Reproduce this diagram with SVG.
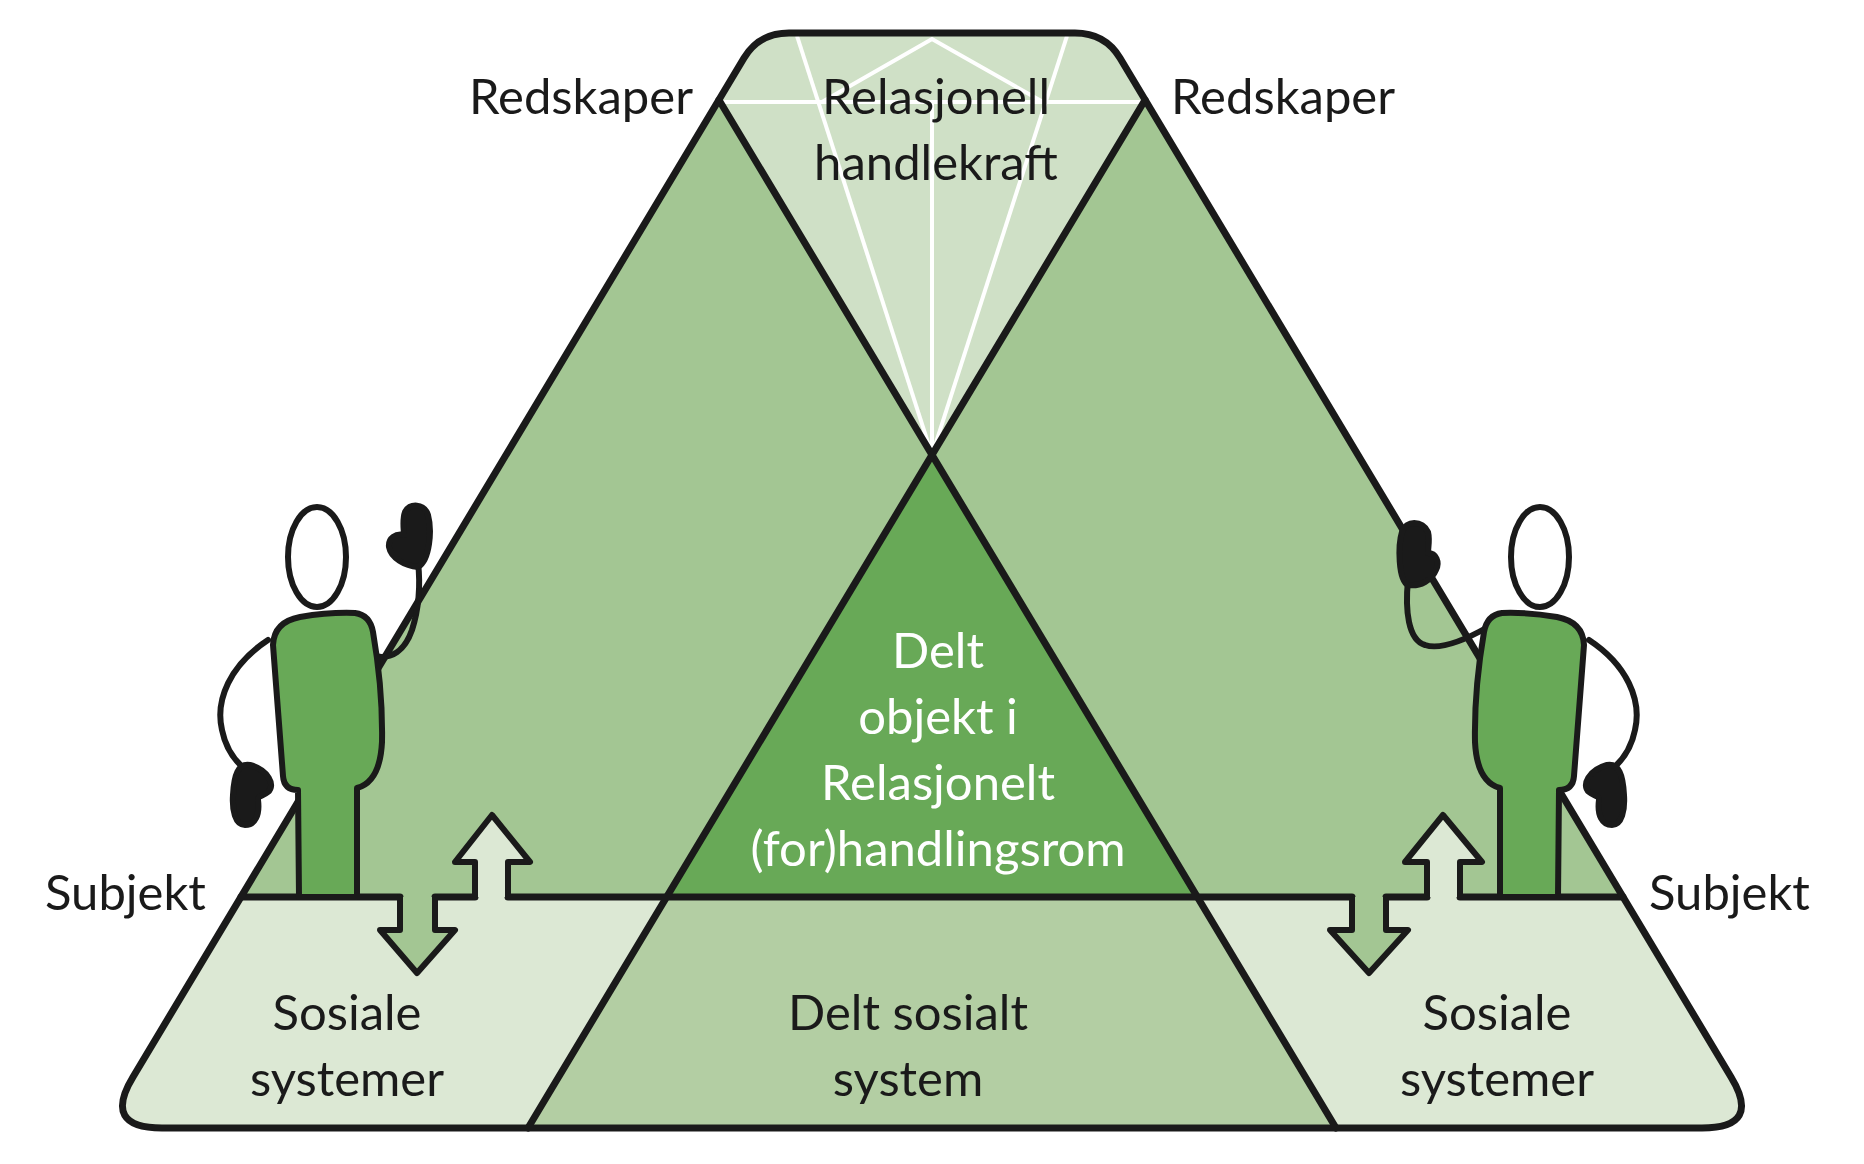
<svg xmlns="http://www.w3.org/2000/svg" width="1864" height="1164" viewBox="0 0 1864 1164">
<style>
.k{stroke:#1a1a1a;stroke-width:7;fill:none;stroke-linejoin:round;stroke-linecap:round}
.w{stroke:#ffffff;stroke-width:4;fill:none}
.t{font-family:Lato,"Noto Sans",sans-serif;font-size:49px;fill:#1a1a1a}
.c{text-anchor:middle}
.fig{stroke:#1a1a1a;stroke-width:6;stroke-linejoin:round;stroke-linecap:round}
</style>
<defs>
<clipPath id="outer"><path d="M789,33 L1075,33 Q1105,33 1120,58 L1731,1077 Q1762,1128 1702,1128 L162,1128 Q102,1128 133,1077 L744,58 Q759,33 789,33 Z"/></clipPath>
</defs>
<rect width="1864" height="1164" fill="#ffffff"/>
<g id="regions" clip-path="url(#outer)">
<rect x="0" y="0" width="1864" height="1164" fill="#cfe0c6"/>
<polygon points="719,100 241,897 1623,897 1145,100 932,455" fill="#a3c693"/>
<polygon points="932,455 667,897 1197,897" fill="#68a957"/>
<rect x="0" y="897" width="1864" height="300" fill="#dce8d4"/>
<polygon points="667,897 1197,897 1336,1128 528,1128" fill="#b3cea3"/>
</g>
<g id="facets">
<line class="w" x1="719" y1="102" x2="1145" y2="102"/>
<line class="w" x1="932" y1="455" x2="797" y2="36"/>
<line class="w" x1="932" y1="455" x2="1067" y2="36"/>
<line class="w" x1="932" y1="455" x2="932" y2="102"/>
<polyline class="w" points="822,102 932,39 1043,102"/>
</g>
<g id="connectors">
<line class="k" x1="719" y1="100" x2="1336" y2="1128"/>
<line class="k" x1="1145" y1="100" x2="528" y2="1128"/>
<path class="k" d="M241,897 L400,897 M435,897 L475,897 M508,897 L1352,897 M1386,897 L1427,897 M1460,897 L1623,897"/>
<path class="k" d="M789,33 L1075,33 Q1105,33 1120,58 L1731,1077 Q1762,1128 1702,1128 L162,1128 Q102,1128 133,1077 L744,58 Q759,33 789,33 Z"/>
</g>
<g id="arrows">
<path d="M400,897 L400,930 L380,930 L417,973 L455,930 L435,930 L435,897" fill="#a3c693" class="fig"/>
<path d="M475,897 L475,862 L455,862 L492,815 L530,862 L508,862 L508,897" fill="#dce8d4" class="fig"/>
<path d="M1352,897 L1352,930 L1330,930 L1369,973 L1408,930 L1386,930 L1386,897" fill="#a3c693" class="fig"/>
<path d="M1427,897 L1427,862 L1405,862 L1443,815 L1482,862 L1460,862 L1460,897" fill="#dce8d4" class="fig"/>
</g>
<g id="subject-left">
<ellipse cx="317" cy="557" rx="29" ry="50" fill="#ffffff" class="fig"/>
<path d="M268,640 C230,665 215,700 222,730 C226,750 236,762 246,770" fill="none" class="fig"/>
<path d="M250,765 C268,770 276,785 268,792 C262,797 258,795 258,800 C260,815 255,825 245,825 C235,825 232,810 233,795 C234,775 238,763 250,765 Z" fill="#1a1a1a" class="fig"/>
<path d="M374,656 C392,660 405,650 412,630 C420,605 420,580 418,562" fill="none" class="fig"/>
<path d="M418,567 C430,560 432,530 428,515 C424,503 410,503 405,512 C402,520 404,530 404,535 C396,533 388,538 389,547 C391,558 405,566 418,567 Z" fill="#1a1a1a" class="fig"/>
<path d="M273,645 Q274,622 300,617 Q330,612 355,613 Q370,615 373,632 Q383,690 382,742 Q380,782 357,788 L357,897 L299,897 L298,790 Q284,790 283,776 Z" fill="#68a957" class="fig"/>
</g>
<g id="subject-right">
<g transform="translate(1857,0) scale(-1,1)">
<ellipse cx="317" cy="557" rx="29" ry="50" fill="#ffffff" class="fig"/>
<path d="M268,640 C230,665 215,700 222,730 C226,750 236,762 246,770" fill="none" class="fig"/>
<path d="M250,765 C268,770 276,785 268,792 C262,797 258,795 258,800 C260,815 255,825 245,825 C235,825 232,810 233,795 C234,775 238,763 250,765 Z" fill="#1a1a1a" class="fig"/>
</g>
<path d="M1488,627 C1465,640 1440,650 1425,645 C1408,640 1405,610 1408,580" fill="none" class="fig"/>
<path d="M1408,585 C1398,580 1398,545 1402,532 C1406,520 1422,520 1428,532 C1430,540 1428,548 1428,553 C1436,553 1440,562 1436,570 C1432,580 1420,587 1408,585 Z" fill="#1a1a1a" class="fig"/>
<g transform="translate(1857,0) scale(-1,1)">
<path d="M273,645 Q274,622 300,617 Q330,612 355,613 Q370,615 373,632 Q383,690 382,742 Q380,782 357,788 L357,897 L299,897 L298,790 Q284,790 283,776 Z" fill="#68a957" class="fig"/>
</g>
</g>
<g id="labels">
<text class="t" x="693" y="114" text-anchor="end">Redskaper</text>
<text class="t" x="1171" y="114">Redskaper</text>
<text class="t c" x="936" y="114">Relasjonell</text>
<text class="t c" x="936" y="180">handlekraft</text>
<text class="t" x="45" y="910">Subjekt</text>
<text class="t" x="1649" y="910">Subjekt</text>
<text class="t c" x="938" y="668" style="fill:#ffffff">Delt</text>
<text class="t c" x="938" y="734" style="fill:#ffffff">objekt i</text>
<text class="t c" x="938" y="800" style="fill:#ffffff">Relasjonelt</text>
<text class="t c" x="938" y="866" style="fill:#ffffff">(for)handlingsrom</text>
<text class="t c" x="347" y="1030">Sosiale</text>
<text class="t c" x="347" y="1096">systemer</text>
<text class="t c" x="908" y="1030">Delt sosialt</text>
<text class="t c" x="908" y="1096">system</text>
<text class="t c" x="1497" y="1030">Sosiale</text>
<text class="t c" x="1497" y="1096">systemer</text>
</g>
</svg>
